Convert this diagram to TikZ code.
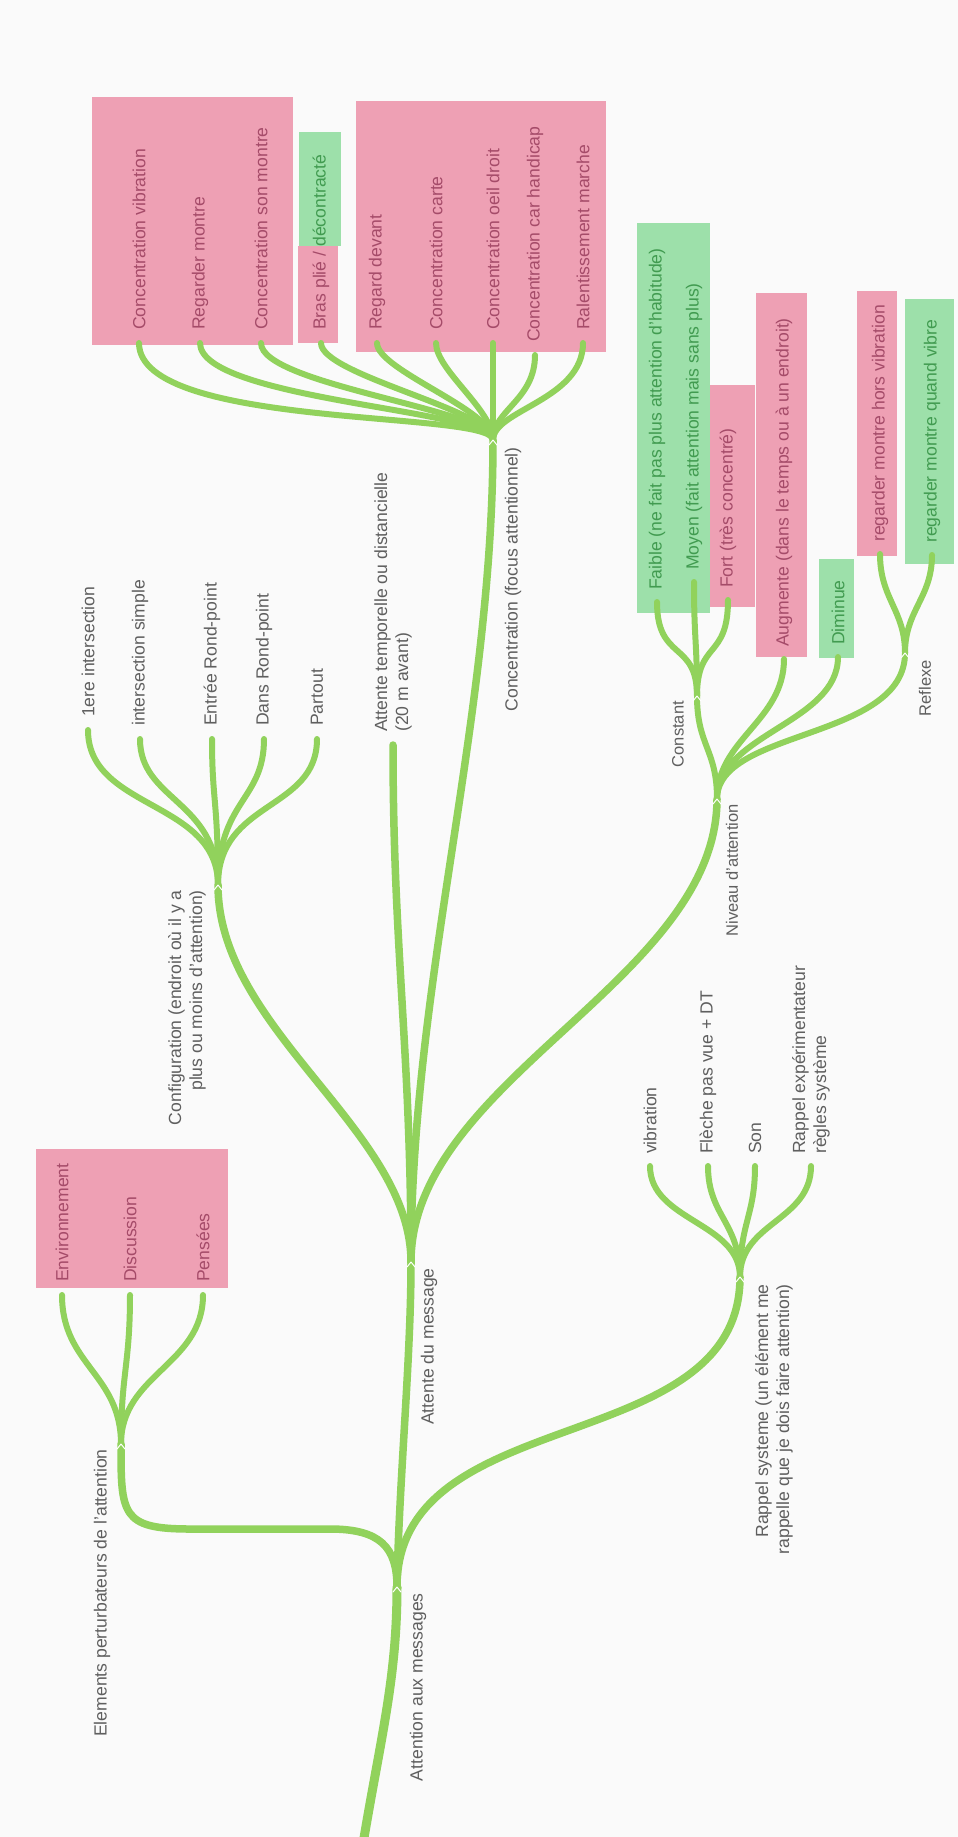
\documentclass[tikz,border=0pt]{standalone}
\usepackage{fontspec}
\setmainfont{Liberation Sans}
\usetikzlibrary{positioning}
\definecolor{MapBg}{RGB}{250,250,250}
\definecolor{MapBranch}{RGB}{145,210,92}
\definecolor{MapPink}{RGB}{238,160,180}
\definecolor{MapMint}{RGB}{157,224,170}
\definecolor{MapText}{RGB}{95,95,95}
\definecolor{MapPinkText}{RGB}{165,75,105}
\definecolor{MapMintText}{RGB}{65,155,80}

\tikzset{
  trunk/.style={MapBranch,line width=9pt},
  bough/.style={MapBranch,line width=7.5pt},
  twig/.style={MapBranch,line width=6pt},
  lbltext/.style={rotate=90,inner sep=0pt,text=MapText,font=\fontsize{17.6}{21}\selectfont},
  smalltext/.style={font=\fontsize{16.5}{20}\selectfont},
  leaftext/.style={lbltext,anchor=west,align=left},
  hubtext/.style={lbltext,anchor=east,align=right},
  pinkleaf/.style={leaftext,text=MapPinkText},
  mintleaf/.style={leaftext,text=MapMintText},
  chev/.pic={\draw[white,line width=1pt] (-4,5) -- (0,0) -- (4,5);}
}

\begin{document}
\begin{tikzpicture}[x=1pt,y=-1pt,line cap=round,line join=round]
  \useasboundingbox (0,0) rectangle (958,1837);
  \fill[MapBg] (0,0) rectangle (958,1837);

  % highlight boxes
  \fill[MapPink] (92,97) rectangle (293,345);
  \fill[MapPink] (298,246) rectangle (338,343);
  \fill[MapMint] (299,132) rectangle (341,246);
  \fill[MapPink] (356,101) rectangle (606,352);
  \fill[MapMint] (637,223) rectangle (710,613);
  \fill[MapPink] (710,385) rectangle (755,607);
  \fill[MapPink] (756,293) rectangle (807,657);
  \fill[MapMint] (819,559) rectangle (854,658);
  \fill[MapPink] (857,291) rectangle (897,556);
  \fill[MapMint] (905,299) rectangle (954,564);
  \fill[MapPink] (36,1149) rectangle (228,1288);

  % hubs
  \coordinate (base) at (362,1850);
  \coordinate (att) at (397,1587);
  \coordinate (elm) at (121,1444);
  \coordinate (msg) at (411,1262);
  \coordinate (rap) at (740,1277);
  \coordinate (cfg) at (218,885);
  \coordinate (con) at (493,440);
  \coordinate (niv) at (717,799);
  \coordinate (cst) at (697,696);
  \coordinate (rfx) at (905,653);

  % leaf ends
  \coordinate (cvib) at (139,343);
  \coordinate (cmon) at (200,343);
  \coordinate (cson) at (261,343);
  \coordinate (cbra) at (321,343);
  \coordinate (creg) at (377,343);
  \coordinate (ccar) at (436,343);
  \coordinate (coei) at (493,343);
  \coordinate (chan) at (535,355);
  \coordinate (cral) at (583,343);
  \coordinate (tmp) at (393,745);
  \coordinate (int1) at (88,730);
  \coordinate (int2) at (140,739);
  \coordinate (ent) at (212,739);
  \coordinate (dans) at (264,739);
  \coordinate (part) at (317,739);
  \coordinate (fai) at (657,602);
  \coordinate (moy) at (694,582);
  \coordinate (frt) at (728,600);
  \coordinate (aug) at (784,659);
  \coordinate (dim) at (838,657);
  \coordinate (hvb) at (880,554);
  \coordinate (qvb) at (932,555);
  \coordinate (rvib) at (650,1166);
  \coordinate (rfle) at (708,1166);
  \coordinate (rson) at (755,1166);
  \coordinate (rexp) at (811,1166);
  \coordinate (env) at (62,1295);
  \coordinate (dis) at (130,1295);
  \coordinate (pen) at (203,1295);

  % branches
  \draw[trunk] (base) .. controls (380,1740) and (397,1680) .. (att);
  \draw[bough] (att) .. controls +(2,-107) and +(0,98) .. (msg);
  \draw[bough] (att) .. controls +(0,-187) and +(0,183) .. (rap);
  \draw[bough] (att) .. controls +(0,-40) and +(50,0) .. (330,1529) -- (190,1529)
    .. controls +(-69,0) and +(0,70) .. (elm);
  \draw[bough] (msg) .. controls +(0,-132) and +(0,145) .. (cfg);
  \draw[bough] (msg) .. controls +(0,-212) and +(0,205) .. (tmp);
  \draw[bough] (msg) .. controls +(0,-282) and +(0,280) .. (con);
  \draw[bough] (msg) .. controls +(0,-182) and +(0,181) .. (niv);
  \draw[twig] (niv) .. controls +(0,-50) and +(0,50) .. (cst);
  \draw[twig] (niv) .. controls +(0,-60) and +(0,62) .. (aug);
  \draw[twig] (niv) .. controls +(0,-65) and +(0,66) .. (dim);
  \draw[twig] (niv) .. controls +(0,-70) and +(0,87) .. (rfx);
  \foreach \l/\d in {cvib/87,cmon/57,cson/42,cbra/32,creg/27,ccar/27,coei/30,chan/45,cral/57}
    \draw[twig] (con) .. controls +(0,-30) and +(0,\d) .. (\l);
  \foreach \l/\d in {int1/80,int2/62,ent/62,dans/62,part/72}
    \draw[twig] (cfg) .. controls +(0,-85) and +(0,\d) .. (\l);
  \foreach \l/\d in {fai/60,moy/58,frt/60}
    \draw[twig] (cst) .. controls +(0,-56) and +(0,\d) .. (\l);
  \foreach \l/\d in {hvb/45,qvb/43}
    \draw[twig] (rfx) .. controls +(0,-43) and +(0,\d) .. (\l);
  \foreach \l/\d in {rvib/55,rfle/50,rson/50,rexp/55}
    \draw[twig] (rap) .. controls +(0,-55) and +(0,\d) .. (\l);
  \foreach \l in {env,dis,pen}
    \draw[twig] (elm) .. controls +(0,-70) and +(0,70) .. (\l);

  % chevrons
  \foreach \h in {att,msg,elm,rap,cfg,con,niv,cst,rfx}
    \pic at (\h) {chev};

  % hub labels
  \node[hubtext] (tatt) at (418,1593) {Attention aux messages};
  \node[hubtext] (tmsg) at (429,1268) {Attente du message};
  \node[hubtext] (telm) at (102,1449) {Elements perturbateurs de l'attention};
  \node[hubtext] (tcfg) at (187,890) {Configuration (endroit où il y a\\plus ou moins d'attention)};
  \node[hubtext] (tcon) at (513,447) {Concentration (focus attentionnel)};
  \node[hubtext,smalltext] (tniv) at (732,804) {Niveau d'attention};
  \node[hubtext,smalltext] (tcst) at (678,701) {Constant};
  \node[hubtext,smalltext] (trfx) at (925,660) {Reflexe};
  \node[hubtext] (trap) at (774,1284) {Rappel systeme (un élément me\\rappelle que je dois faire attention)};

  % leaf labels
  \node[pinkleaf] (tcvib) at ([yshift=13pt]cvib) {Concentration vibration};
  \node[pinkleaf] (tcmon) at ([yshift=13pt]cmon) {Regarder montre};
  \node[pinkleaf] (tcson) at ([yshift=13pt]cson) {Concentration son montre};
  \node[pinkleaf] (tcbra) at ([yshift=13pt]cbra) {Bras plié / \textcolor{MapMintText}{décontracté}};
  \node[pinkleaf] (tcreg) at ([yshift=13pt]creg) {Regard devant};
  \node[pinkleaf] (tccar) at ([yshift=13pt]ccar) {Concentration carte};
  \node[pinkleaf] (tcoei) at ([yshift=13pt]coei) {Concentration oeil droit};
  \node[pinkleaf] (tchan) at ([yshift=13pt]chan) {Concentration car handicap};
  \node[pinkleaf] (tcral) at ([yshift=13pt]cral) {Ralentissement marche};
  \node[leaftext] (ttmp) at ([yshift=13pt]tmp) {Attente temporelle ou distancielle\\(20 m avant)};
  \node[leaftext] (tint1) at ([yshift=13pt]int1) {1ere intersection};
  \node[leaftext] (tint2) at ([yshift=13pt]int2) {intersection simple};
  \node[leaftext] (tent) at ([yshift=13pt]ent) {Entrée Rond-point};
  \node[leaftext] (tdans) at ([yshift=13pt]dans) {Dans Rond-point};
  \node[leaftext] (tpart) at ([yshift=13pt]part) {Partout};
  \node[mintleaf] (tfai) at ([yshift=12pt]fai) {Faible (ne fait pas plus attention d'habitude)};
  \node[mintleaf] (tmoy) at ([yshift=12pt]moy) {Moyen (fait attention mais sans plus)};
  \node[pinkleaf] (tfrt) at ([yshift=12pt]frt) {Fort (très concentré)};
  \node[pinkleaf] (taug) at ([yshift=12pt]aug) {Augmente (dans le temps ou à un endroit)};
  \node[mintleaf] (tdim) at ([yshift=12pt]dim) {Diminue};
  \node[pinkleaf] (thvb) at ([yshift=12pt]hvb) {regarder montre hors vibration};
  \node[mintleaf] (tqvb) at ([yshift=12pt]qvb) {regarder montre quand vibre};
  \node[leaftext] (trvib) at ([yshift=12pt]rvib) {vibration};
  \node[leaftext] (trfle) at ([yshift=12pt]rfle) {Flèche pas vue + DT};
  \node[leaftext] (trson) at ([yshift=12pt]rson) {Son};
  \node[leaftext] (trexp) at ([yshift=12pt]rexp) {Rappel expérimentateur\\règles système};
  \node[pinkleaf] (tenv) at ([yshift=13pt]env) {Environnement};
  \node[pinkleaf] (tdis) at ([yshift=13pt]dis) {Discussion};
  \node[pinkleaf] (tpen) at ([yshift=13pt]pen) {Pensées};
\end{tikzpicture}
\end{document}
